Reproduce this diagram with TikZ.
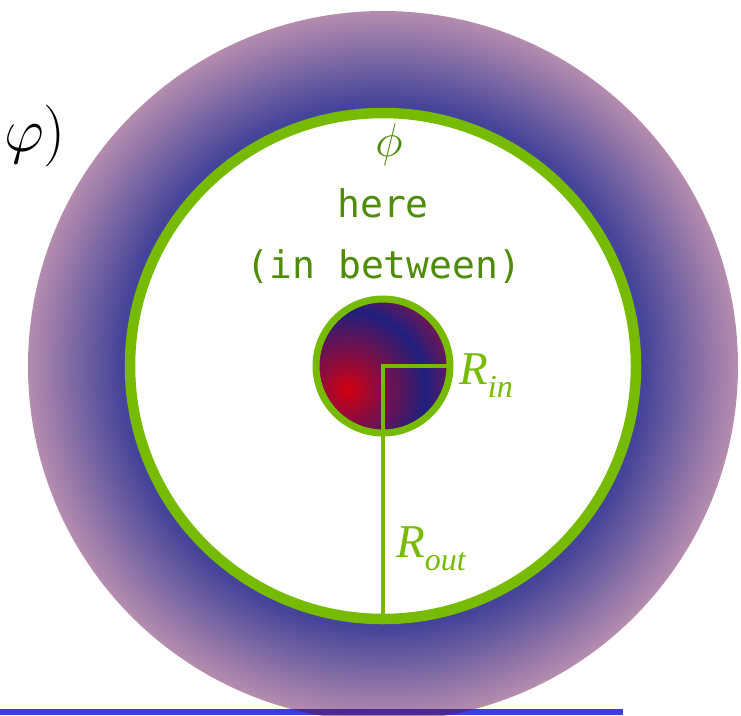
\RequirePackage{fix-cm}
\documentclass[tikz,border=0pt]{standalone}
\usepackage{fontspec}
\setmainfont{Liberation Serif}
\newfontfamily\ringmono{DejaVu Sans Mono}
\usetikzlibrary{calc}
\definecolor{RingGreen}{HTML}{77BB00}
\definecolor{LabelGreen}{HTML}{4E8C05}
\definecolor{HaloBlue}{HTML}{45449A}
\definecolor{HaloMauve}{HTML}{B48CAE}
\definecolor{CoreRed}{HTML}{D6000E}
\definecolor{CoreMid}{HTML}{8E0C3C}
\definecolor{CoreBlue}{HTML}{20207E}
\definecolor{CorePlum}{HTML}{7C1452}
\definecolor{FloorBlue}{HTML}{3C3CE0}
\definecolor{FloorDark}{HTML}{4B2892}
\tikzset{
  greenring/.style={draw=RingGreen,line width=10.5pt},
  corering/.style={draw=RingGreen,line width=7pt},
  radiusline/.style={draw=RingGreen,line width=4pt,line join=miter},
  floorline/.style={fill=FloorBlue},
  monolabel/.style={text=LabelGreen,font=\ringmono\fontsize{38}{38}\selectfont,inner sep=0pt,anchor=base},
  radlabel/.style={text=RingGreen,font=\itshape\fontsize{47}{47}\selectfont,inner sep=0pt,anchor=base west}
}
\newcommand{\radsub}[2]{#1\raisebox{-13pt}{\fontsize{32}{32}\selectfont #2}}

\begin{document}
\begin{tikzpicture}[x=1pt,y=-1pt]
\useasboundingbox (0,0) rectangle (741,715);
\coordinate (ctr) at (383,366);
\coordinate (focus) at (348,390);
% halo around the shell, mauve outside to blue inside
\foreach \k in {0,...,46}{
  \pgfmathsetmacro{\rr}{355-2*\k}
  \pgfmathsetmacro{\pp}{\k*100/46}
  \fill[HaloBlue!\pp!HaloMauve] (ctr) circle (\rr pt);
}
\fill[floorline] (0,709) rectangle (623,715);
\begin{scope}
  \clip (ctr) circle (355pt);
  \fill[FloorDark] (0,709) rectangle (623,715);
\end{scope}
\fill[white] (ctr) circle (253pt);
\draw[greenring] (ctr) circle (253pt);
% core, lit from the lower left
\begin{scope}
  \clip (ctr) circle (67pt);
  \foreach \d in {112,110,...,82}{
    \pgfmathsetmacro{\pp}{(\d-80)*100/32}
    \fill[CorePlum!\pp!CoreBlue] (focus) circle (\d pt);
  }
  \foreach \d in {80,78,...,32}{
    \pgfmathsetmacro{\pp}{(\d-30)*100/50}
    \fill[CoreBlue!\pp!CoreMid] (focus) circle (\d pt);
  }
  \foreach \d in {30,28,...,2}{
    \pgfmathsetmacro{\pp}{\d*100/30}
    \fill[CoreMid!\pp!CoreRed] (focus) circle (\d pt);
  }
\end{scope}
\draw[corering] (ctr) circle (67pt);
\draw[radiusline] ($(ctr)+(67,0)$) -- (ctr) -- ++(0,251);
\node[font=\fontsize{62}{62}\selectfont,inner sep=0pt,anchor=base west] (phiout) at (4,151) {$\varphi)$};
\node[text=LabelGreen,font=\fontsize{47}{47}\selectfont,inner sep=0pt,anchor=base] (phiin) at (389,156) {$\phi$};
\node[monolabel] (here) at (383,217) {here};
\node[monolabel] (between) at (384,278) {(in between)};
\node[radlabel] (rin) at (459,384) {\radsub{R}{in}};
\node[radlabel] (rout) at (396,557) {\radsub{R}{out}};
\end{tikzpicture}
\end{document}
